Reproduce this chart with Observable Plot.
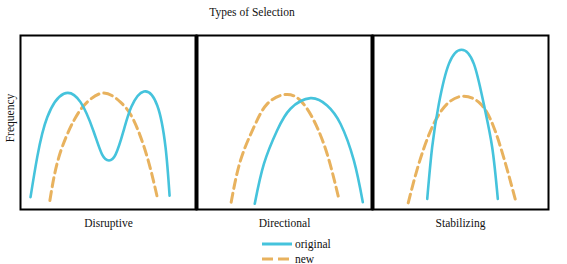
<!DOCTYPE html>
<html>
<head>
<meta charset="utf-8">
<script src="https://cdn.jsdelivr.net/npm/d3@7"></script>
<script src="https://cdn.jsdelivr.net/npm/@observablehq/plot@0.6"></script>
<style>
  html, body { margin: 0; padding: 0; background: #fff; }
  #wrap { position: relative; width: 567px; height: 264px; font-family: "Liberation Serif", "Times New Roman", Times, Tinos, "Noto Serif", "DejaVu Serif", serif; color: #111; }
  #title { position: absolute; top: 6px; left: 0; width: 504px; text-align: center; font-size: 11.5px; }
  #ylabel { position: absolute; left: 10px; top: 118px; transform: translate(-50%, -50%) rotate(-90deg); font-size: 11.5px; white-space: nowrap; }
  #legend { position: absolute; left: 262px; top: 236px; font-size: 11.5px; line-height: 14px; }
  #legend .row { display: flex; align-items: center; height: 15px; }
  #legend svg { margin-right: 3px; }
  #plot { position: absolute; left: 0; top: 0; }
</style>
</head>
<body>
<div id="wrap">
  <div id="plot"></div>
  <div id="title">Types of Selection</div>
  <div id="ylabel">Frequency</div>
  <div id="legend"></div>
</div>
<script>
const panels = ["Disruptive", "Directional", "Stabilizing"];
const seriesNames = ["original", "new"];
const seriesColors = ["#45c3dc", "#e8b25e"];

// [x, y] points (x, y in 0–100 panel units)
const disruptiveOriginal = [[5.7,7.1],[9.5,30.1],[15.2,53.0],[24.6,66.5],[34.1,61.7],[41.5,45.0],[46.4,31.5],[50.2,28.2],[54.0,31.5],[58.5,45.0],[63.0,59.0],[70.1,67.8],[77.7,59.8],[82.4,35.8],[84.7,8.0]];
const disruptiveNew = [[16.7,5.2],[21.8,30.1],[30.3,51.1],[37.9,61.7],[47.3,66.9],[56.8,61.7],[64.4,51.1],[72.0,30.1],[77.7,7.1]];
const directionalOriginal = [[33.1,3.3],[38.3,26.2],[45.8,45.4],[53.4,57.9],[64.8,64.0],[74.2,59.8],[81.8,49.3],[89.4,28.2],[94.5,4.2]];
const directionalNew = [[19.7,4.2],[25.0,28.2],[32.6,47.3],[40.2,60.7],[50.6,66.1],[59.1,62.6],[66.7,51.1],[74.2,32.0],[80.9,6.1]];
const stabilizingOriginal = [[31.1,6.1],[33.9,35.8],[37.7,60.7],[43.4,83.7],[50.6,91.8],[57.6,83.7],[63.2,60.7],[68.0,35.8],[71.2,6.1]];
const stabilizingNew = [[20.3,3.8],[26.3,26.2],[33.9,47.3],[42.4,60.7],[51.9,65.1],[61.4,60.7],[68.9,47.3],[75.6,26.2],[81.3,5.2]];

const curves = [
  ["Disruptive", "original", disruptiveOriginal],
  ["Disruptive", "new", disruptiveNew],
  ["Directional", "original", directionalOriginal],
  ["Directional", "new", directionalNew],
  ["Stabilizing", "original", stabilizingOriginal],
  ["Stabilizing", "new", stabilizingNew]
];
const data = curves.flatMap(([panel, series, pts]) => pts.map(([x, y], i) => ({panel, series, x, y, first: i === 0})));

const chart = Plot.plot({
  width: 567,
  height: 264,
  marginTop: 35,
  marginBottom: 55,
  marginLeft: 20,
  marginRight: 19,
  style: {fontFamily: "'Liberation Serif', 'Times New Roman', Times, Tinos, 'Noto Serif', 'DejaVu Serif', serif", fontSize: "11.5px", color: "#111", background: "transparent"},
  facet: {data, x: "panel"},
  fx: {domain: panels, padding: 0, axis: "bottom", label: null, tickSize: 0, tickPadding: 9},
  x: {domain: [0, 100], axis: null},
  y: {domain: [0, 100], axis: null},
  marks: [
    Plot.line(data, {filter: d => d.series === "new", x: "x", y: "y", curve: "natural", stroke: seriesColors[1], strokeWidth: 3, strokeDasharray: "9,5"}),
    Plot.line(data, {filter: d => d.series === "original", x: "x", y: "y", curve: "natural", stroke: seriesColors[0], strokeWidth: 2.6}),
    Plot.frame({stroke: "black", strokeWidth: 2}),
    Plot.ruleX(data, {filter: d => d.panel !== "Disruptive" && d.series === "new" && d.first, x: 0, stroke: "black", strokeWidth: 4})
  ]
});
document.getElementById("plot").appendChild(chart);

const legend = document.getElementById("legend");
seriesNames.forEach((name, i) => {
  const row = document.createElement("div");
  row.className = "row";
  const dash = i === 1 ? ' stroke-dasharray="11,5"' : '';
  row.innerHTML = `<svg width="30" height="6"><line x1="0" x2="30" y1="3" y2="3" stroke="${seriesColors[i]}" stroke-width="3"${dash}/></svg><span>${name}</span>`;
  legend.appendChild(row);
});
</script>
</body>
</html>
